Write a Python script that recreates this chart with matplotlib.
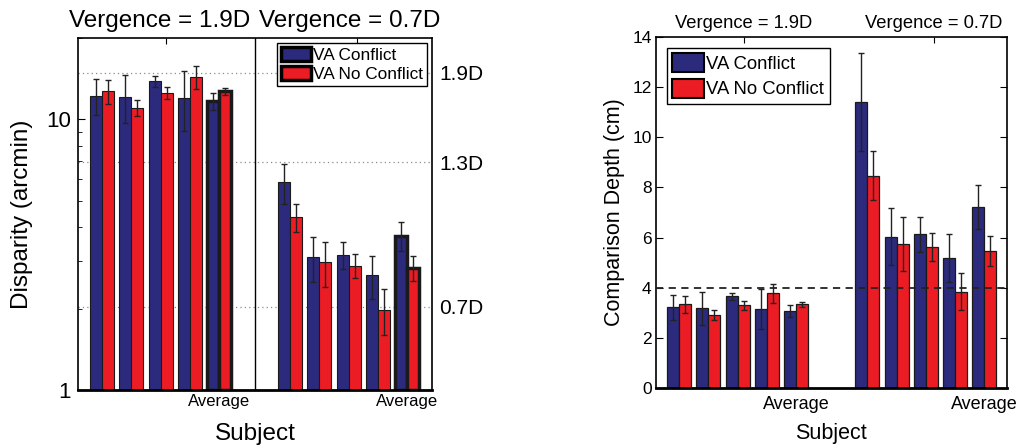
import matplotlib
matplotlib.use('Agg')
import numpy as np
import matplotlib.pyplot as plt
from matplotlib.patches import Patch
from matplotlib.ticker import LogLocator, NullFormatter, NullLocator

plt.rcParams['font.family'] = ['Liberation Sans', 'DejaVu Sans']

# Subject positions: 4 subjects + average for each vergence distance
x_near = [1, 2, 3, 4, 5]
x_far = [7.42, 8.42, 9.42, 10.42, 11.42]
avg_pos = [5, 11.42]
avg_labels = ['Average', 'Average']
vergence_labels = ['Vergence = 1.9D', 'Vergence = 0.7D']
header_pos = [3.2, 9.7]

# Disparity (arcmin)
disp_conflict = [12.25, 12.12, 13.84, 12.05, 11.68, 5.85, 3.10, 3.16, 2.65, 3.72]
disp_conflict_err = [1.9, 2.45, 0.68, 3.0, 0.83, 1.0, 0.59, 0.36, 0.48, 0.45]
disp_noconflict = [12.71, 11.04, 12.54, 14.39, 12.71, 4.35, 2.96, 2.88, 1.98, 2.83]
disp_noconflict_err = [1.27, 0.76, 0.64, 1.42, 0.40, 0.50, 0.56, 0.29, 0.38, 0.31]

# disparity matching each vergence
vergence_disp = [14.9, 6.96, 2.03]
vergence_names = ['1.9D', '1.3D', '0.7D']

# Comparison depth (cm)
depth_conflict = [3.22, 3.18, 3.66, 3.17, 3.07, 11.41, 6.04, 6.13, 5.18, 7.23]
depth_conflict_err = [0.51, 0.64, 0.15, 0.8, 0.24, 1.96, 1.15, 0.7, 0.95, 0.87]
depth_noconflict = [3.34, 2.91, 3.30, 3.78, 3.34, 8.47, 5.76, 5.61, 3.85, 5.48]
depth_noconflict_err = [0.33, 0.21, 0.18, 0.37, 0.1, 0.97, 1.07, 0.56, 0.74, 0.6]
standard_depth = 4

blue = '#2b2a7d'
red = '#ec1c24'
w = 0.41
xpos = np.array(x_near + x_far)
err_kw = dict(ecolor='#222222', elinewidth=1.0, capsize=2.5, capthick=1.0)

fig = plt.figure(figsize=(10.18, 4.47), dpi=100)

# ---- left panel: disparity on log axis ----
ax1 = fig.add_axes([0.0766, 0.1275, 0.3477, 0.7875])
ax1.set_yscale('log')
lw_edges = [0.8, 0.8, 0.8, 0.8, 2.5] * 2
# bars rise from the bottom of the log axis (1 arcmin)
ax1.bar(xpos - w / 2, np.array(disp_conflict) - 1, w, bottom=1, color=blue,
        edgecolor='#1a1a1a', linewidth=lw_edges, yerr=disp_conflict_err,
        error_kw=err_kw, zorder=2)
ax1.bar(xpos + w / 2, np.array(disp_noconflict) - 1, w, bottom=1, color=red,
        edgecolor='#1a1a1a', linewidth=lw_edges, yerr=disp_noconflict_err,
        error_kw=err_kw, zorder=2)
for v in vergence_disp:
    ax1.axhline(v, color='0.55', ls=(0, (1, 2.5)), lw=0.9, zorder=1)
ax1.axvline((x_near[-1] + x_far[0]) / 2, color='k', lw=1.0, zorder=1)

ax1.set_xlim(0.18, 12.26)
ax1.set_ylim(1, 20)
ax1.set_yticks([1, 10])
ax1.set_yticklabels(['1', '10'])
ax1.yaxis.set_minor_locator(LogLocator(base=10, subs=np.arange(2, 10)))
ax1.yaxis.set_minor_formatter(NullFormatter())
ax1.tick_params(axis='y', which='both', direction='in', left=True, right=True, labelsize=16, pad=5)
ax1.tick_params(axis='y', which='major', length=5)
ax1.tick_params(axis='y', which='minor', length=3)
ax1.set_xticks(avg_pos)
ax1.set_xticklabels(avg_labels)
ax1.tick_params(axis='x', length=0, labelsize=12, pad=3)
for s in ax1.spines.values():
    s.set_linewidth(1.2)
ax1.spines['bottom'].set_linewidth(2)

top1 = ax1.secondary_xaxis('top')
top1.set_xticks(header_pos)
top1.set_xticklabels([])
top1.tick_params(direction='in', length=4)
top1.spines['top'].set_visible(False)

twin = ax1.twinx()
twin.set_yscale('log')
twin.set_ylim(1, 20)
twin.set_yticks(vergence_disp)
twin.set_yticklabels(vergence_names)
twin.yaxis.set_minor_locator(NullLocator())
twin.tick_params(axis='y', which='both', length=0, labelsize=15, pad=5)
for s in twin.spines.values():
    s.set_visible(False)

ax1.set_ylabel('Disparity (arcmin)', fontsize=17.5)
ax1.yaxis.set_label_coords(-0.127, 0.5)
ax1.set_xlabel('Subject', fontsize=17.5)
ax1.xaxis.set_label_coords(0.5, -0.094)
for xp, lab in zip([2.95, 9.46], vergence_labels):
    ax1.text(xp, 1.032, lab, ha='center', va='baseline', fontsize=17.5,
             transform=ax1.get_xaxis_transform())

handles1 = [Patch(facecolor=blue, edgecolor='k', linewidth=2.5),
            Patch(facecolor=red, edgecolor='k', linewidth=2.5)]
leg1 = twin.legend(handles1, ['VA Conflict', 'VA No Conflict'], loc='upper right',
                   fontsize=12.4, fancybox=False, edgecolor='k', framealpha=1,
                   borderaxespad=0.3, borderpad=0.2, handlelength=1.75, handleheight=0.9,
                   handletextpad=0.15, labelspacing=0.2)
leg1.get_frame().set_linewidth(1.0)

# ---- right panel: comparison depth ----
ax2 = fig.add_axes([0.6441, 0.1313, 0.3448, 0.7866])
ax2.bar(xpos - w / 2, depth_conflict, w, color=blue, edgecolor='#1a1a1a', linewidth=0.9,
        yerr=depth_conflict_err, error_kw=err_kw, zorder=2)
ax2.bar(xpos + w / 2, depth_noconflict, w, color=red, edgecolor='#1a1a1a', linewidth=0.9,
        yerr=depth_noconflict_err, error_kw=err_kw, zorder=2)
ax2.axhline(standard_depth, color='#222222', lw=1.3, dashes=(4, 3), zorder=3)

ax2.set_xlim(0.2, 12.18)
ax2.set_ylim(0, 14)
ax2.set_yticks(np.arange(0, 15, 2))
ax2.tick_params(axis='y', direction='in', left=True, right=True, length=5, labelsize=12.5, pad=3)
ax2.set_xticks(avg_pos)
ax2.set_xticklabels(avg_labels)
ax2.tick_params(axis='x', length=0, labelsize=13, pad=5.5)
for s in ax2.spines.values():
    s.set_linewidth(1.2)
ax2.spines['bottom'].set_linewidth(2)

top2 = ax2.secondary_xaxis('top')
top2.set_xticks(header_pos)
top2.set_xticklabels([])
top2.tick_params(direction='in', length=4)
top2.spines['top'].set_visible(False)

ax2.set_ylabel('Comparison Depth (cm)', fontsize=15.5)
ax2.yaxis.set_label_coords(-0.087, 0.5)
ax2.set_xlabel('Subject', fontsize=15.5)
ax2.xaxis.set_label_coords(0.5, -0.10)
for xp, lab in zip(header_pos, vergence_labels):
    ax2.text(xp, 1.026, lab, ha='center', va='baseline', fontsize=13.2,
             transform=ax2.get_xaxis_transform())

handles2 = [Patch(facecolor=blue, edgecolor='k', linewidth=1.5),
            Patch(facecolor=red, edgecolor='k', linewidth=1.5)]
leg2 = ax2.legend(handles2, ['VA Conflict', 'VA No Conflict'], loc='upper left',
                  fontsize=13.3, fancybox=False, edgecolor='k', framealpha=1,
                  borderaxespad=0.6, borderpad=0.3, handlelength=1.7, handleheight=1.2,
                  handletextpad=0.15, labelspacing=0.3)
leg2.get_frame().set_linewidth(1.0)

fig.savefig('out.png', dpi=100)
